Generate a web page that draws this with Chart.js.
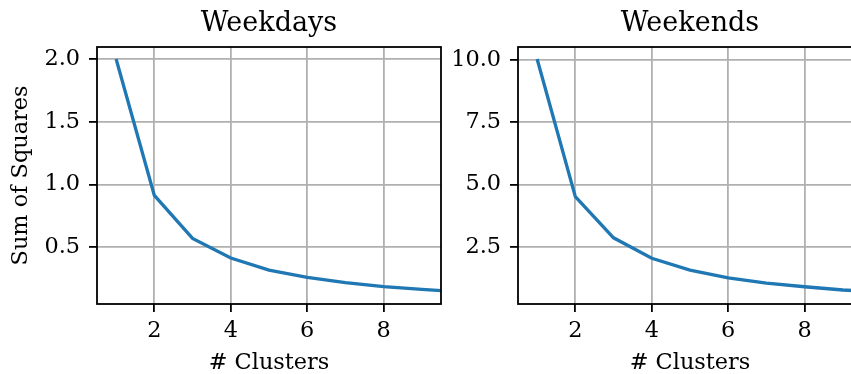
<!DOCTYPE html>
<html lang="en">
<head>
    <meta charset="UTF-8">
    <title>Elbow curves</title>
    <script src="https://cdn.jsdelivr.net/npm/chart.js"></script>
    <style>
        html, body {
            margin: 0;
            padding: 0;
            background: #fff;
            width: 851px;
            height: 374px;
            overflow: hidden;
        }
        #weekdays { position: absolute; left: 0; top: 0; }
        #weekends { position: absolute; left: 445px; top: 0; }
    </style>
</head>
<body>
    <canvas id="weekdays" width="445" height="374"></canvas>
    <canvas id="weekends" width="425" height="374"></canvas>
    <script>
        // values
        const clusters = [1, 2, 3, 4, 5, 6, 7, 8, 9, 10];
        const weekdaySSE = [2.0, 0.912, 0.569, 0.413, 0.317, 0.258, 0.217, 0.185, 0.162, 0.143];
        const weekendSSE = [10.03, 4.52, 2.87, 2.05, 1.58, 1.27, 1.06, 0.91, 0.78, 0.70];
        const xTicks = [2, 4, 6, 8];
        const weekdayTicks = [0.5, 1.0, 1.5, 2.0];
        const weekendTicks = [2.5, 5.0, 7.5, 10.0];

        const serif = 'DejaVu Serif';
        const tickFont = { family: serif, size: 22.4 };

        // matplotlib style box around the axes
        const frame = {
            id: 'frame',
            afterDraw(chart) {
                const { ctx, chartArea: a } = chart;
                ctx.save();
                ctx.strokeStyle = '#000';
                ctx.lineWidth = 1.8;
                ctx.strokeRect(a.left, a.top, a.right - a.left, a.bottom - a.top);
                ctx.restore();
            }
        };

        function makeChart(id, title, values, yTicks, yMin, yMax, yLabel, yWidth, padRight) {
            const grid = { color: '#b0b0b0', lineWidth: 1.8, tickColor: '#000', tickWidth: 1.8, tickLength: 8 };
            return new Chart(document.getElementById(id), {
                type: 'line',
                data: {
                    datasets: [{
                        data: clusters.map((c, i) => ({ x: c, y: values[i] })),
                        borderColor: '#1f77b4',
                        borderWidth: 3.3,
                        pointRadius: 0,
                        tension: 0,
                        fill: false
                    }]
                },
                options: {
                    responsive: false,
                    animation: false,
                    layout: { padding: { top: 0, left: 0, right: padRight, bottom: 0 } },
                    plugins: {
                        legend: { display: false },
                        tooltip: { enabled: false },
                        title: {
                            display: true,
                            text: title,
                            fullSize: false,
                            color: '#000',
                            font: { family: serif, size: 27, weight: 'normal', lineHeight: 1.2 },
                            padding: { top: 7.5, bottom: 7.1 }
                        }
                    },
                    scales: {
                        x: {
                            type: 'linear',
                            min: 0.5,
                            max: 9.5,
                            afterBuildTicks: s => { s.ticks = xTicks.map(v => ({ value: v })); },
                            afterFit: s => { s.height = 70; },
                            ticks: { font: tickFont, color: '#000', padding: 6, maxRotation: 0 },
                            grid: grid,
                            border: { display: false },
                            title: {
                                display: true,
                                text: '# Clusters',
                                color: '#000',
                                font: { family: serif, size: 22.4, lineHeight: 1.0 },
                                padding: { top: 0, bottom: 0 }
                            }
                        },
                        y: {
                            min: yMin,
                            max: yMax,
                            afterBuildTicks: s => { s.ticks = yTicks.map(v => ({ value: v })); },
                            afterFit: s => { s.width = yWidth; },
                            ticks: { font: tickFont, color: '#000', padding: 9, callback: v => v.toFixed(1) },
                            grid: grid,
                            border: { display: false },
                            title: {
                                display: yLabel !== '',
                                text: yLabel,
                                color: '#000',
                                font: { family: serif, size: 22.4, lineHeight: 1.2 },
                                padding: { top: 7.5, bottom: 0 }
                            }
                        }
                    }
                },
                plugins: [frame]
            });
        }

        makeChart('weekdays', 'Weekdays', weekdaySSE, weekdayTicks, 0.046, 2.096, 'Sum of Squares', 97, 4);
        makeChart('weekends', 'Weekends', weekendSSE, weekendTicks, 0.22, 10.51, '', 73, 8);
    </script>
</body>
</html>
